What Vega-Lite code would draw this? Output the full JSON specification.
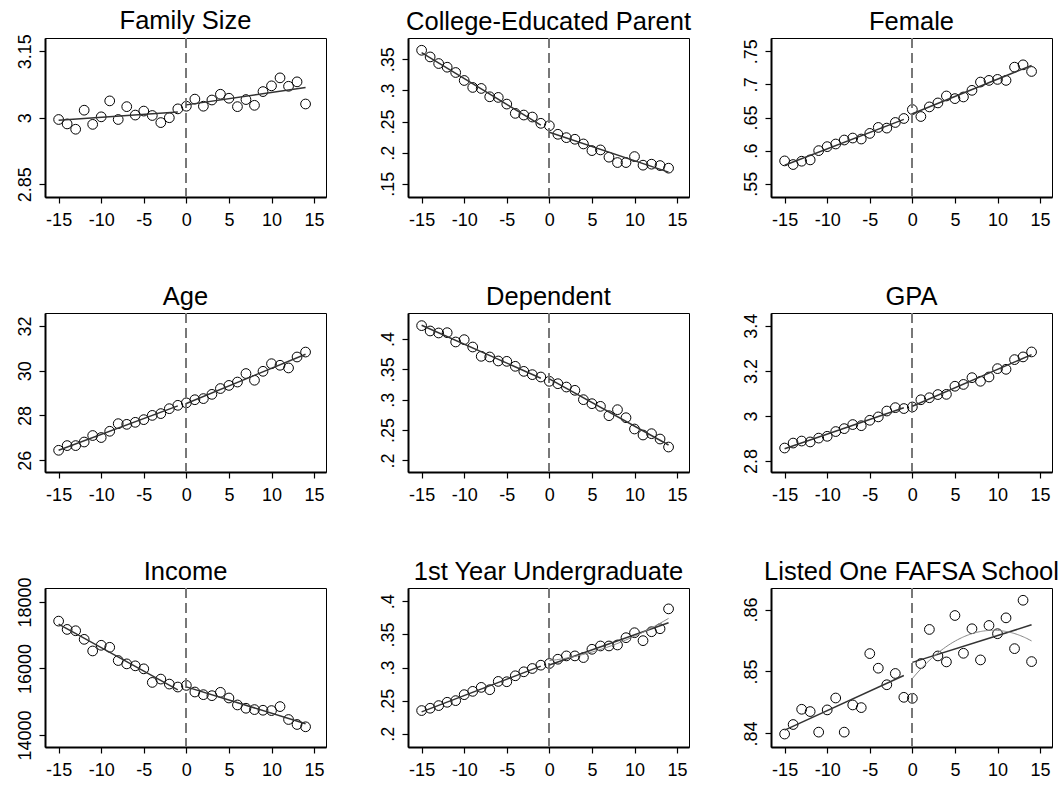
{
  "$schema": "https://vega.github.io/schema/vega-lite/v6.json",
  "background": "white",
  "padding": {"left": 15, "top": 8, "right": 5, "bottom": 5},
  "datasets": {
    "fam": [{"x":-15,"y":2.996},{"x":-14,"y":2.986},{"x":-13,"y":2.974},{"x":-12,"y":3.017},{"x":-11,"y":2.985},{"x":-10,"y":3.002},{"x":-9,"y":3.038},{"x":-8,"y":2.996},{"x":-7,"y":3.025},{"x":-6,"y":3.006},{"x":-5,"y":3.015},{"x":-4,"y":3.005},{"x":-3,"y":2.989},{"x":-2,"y":3.0},{"x":-1,"y":3.02},{"x":0,"y":3.026},{"x":1,"y":3.042},{"x":2,"y":3.026},{"x":3,"y":3.04},{"x":4,"y":3.053},{"x":5,"y":3.044},{"x":6,"y":3.025},{"x":7,"y":3.041},{"x":8,"y":3.028},{"x":9,"y":3.059},{"x":10,"y":3.072},{"x":11,"y":3.09},{"x":12,"y":3.071},{"x":13,"y":3.081},{"x":14,"y":3.031}],
    "col": [{"x":-15,"y":0.3644},{"x":-14,"y":0.3537},{"x":-13,"y":0.3431},{"x":-12,"y":0.3372},{"x":-11,"y":0.3287},{"x":-10,"y":0.3159},{"x":-9,"y":0.3047},{"x":-8,"y":0.3031},{"x":-7,"y":0.2897},{"x":-6,"y":0.2887},{"x":-5,"y":0.278},{"x":-4,"y":0.2631},{"x":-3,"y":0.2604},{"x":-2,"y":0.2572},{"x":-1,"y":0.2471},{"x":0,"y":0.2433},{"x":1,"y":0.2295},{"x":2,"y":0.2241},{"x":3,"y":0.2215},{"x":4,"y":0.214},{"x":5,"y":0.2033},{"x":6,"y":0.2044},{"x":7,"y":0.1927},{"x":8,"y":0.1841},{"x":9,"y":0.1841},{"x":10,"y":0.1937},{"x":11,"y":0.1799},{"x":12,"y":0.1815},{"x":13,"y":0.1793},{"x":14,"y":0.1751}],
    "fem": [{"x":-15,"y":0.5845},{"x":-14,"y":0.579},{"x":-13,"y":0.584},{"x":-12,"y":0.586},{"x":-11,"y":0.6},{"x":-10,"y":0.606},{"x":-9,"y":0.61},{"x":-8,"y":0.616},{"x":-7,"y":0.619},{"x":-6,"y":0.6175},{"x":-5,"y":0.626},{"x":-4,"y":0.635},{"x":-3,"y":0.634},{"x":-2,"y":0.6425},{"x":-1,"y":0.6485},{"x":0,"y":0.662},{"x":1,"y":0.6515},{"x":2,"y":0.666},{"x":3,"y":0.672},{"x":4,"y":0.6825},{"x":5,"y":0.6785},{"x":6,"y":0.681},{"x":7,"y":0.691},{"x":8,"y":0.7035},{"x":9,"y":0.706},{"x":10,"y":0.7075},{"x":11,"y":0.706},{"x":12,"y":0.726},{"x":13,"y":0.7295},{"x":14,"y":0.7195}],
    "age": [{"x":-15,"y":26.44},{"x":-14,"y":26.65},{"x":-13,"y":26.65},{"x":-12,"y":26.81},{"x":-11,"y":27.1},{"x":-10,"y":27.01},{"x":-9,"y":27.29},{"x":-8,"y":27.63},{"x":-7,"y":27.6},{"x":-6,"y":27.69},{"x":-5,"y":27.81},{"x":-4,"y":28.0},{"x":-3,"y":28.08},{"x":-2,"y":28.3},{"x":-1,"y":28.45},{"x":0,"y":28.56},{"x":1,"y":28.7},{"x":2,"y":28.75},{"x":3,"y":28.94},{"x":4,"y":29.2},{"x":5,"y":29.34},{"x":6,"y":29.49},{"x":7,"y":29.87},{"x":8,"y":29.57},{"x":9,"y":29.97},{"x":10,"y":30.31},{"x":11,"y":30.24},{"x":12,"y":30.12},{"x":13,"y":30.61},{"x":14,"y":30.83}],
    "dep": [{"x":-15,"y":0.422},{"x":-14,"y":0.4132},{"x":-13,"y":0.4099},{"x":-12,"y":0.4104},{"x":-11,"y":0.3951},{"x":-10,"y":0.3989},{"x":-9,"y":0.3868},{"x":-8,"y":0.3715},{"x":-7,"y":0.3704},{"x":-6,"y":0.3638},{"x":-5,"y":0.3632},{"x":-4,"y":0.355},{"x":-3,"y":0.3467},{"x":-2,"y":0.3413},{"x":-1,"y":0.3374},{"x":0,"y":0.3303},{"x":1,"y":0.3264},{"x":2,"y":0.3209},{"x":3,"y":0.3155},{"x":4,"y":0.3001},{"x":5,"y":0.2935},{"x":6,"y":0.2891},{"x":7,"y":0.2737},{"x":8,"y":0.2836},{"x":9,"y":0.2704},{"x":10,"y":0.2518},{"x":11,"y":0.2419},{"x":12,"y":0.2441},{"x":13,"y":0.2353},{"x":14,"y":0.2221}],
    "gpa": [{"x":-15,"y":2.858},{"x":-14,"y":2.88},{"x":-13,"y":2.889},{"x":-12,"y":2.885},{"x":-11,"y":2.902},{"x":-10,"y":2.91},{"x":-9,"y":2.931},{"x":-8,"y":2.944},{"x":-7,"y":2.962},{"x":-6,"y":2.957},{"x":-5,"y":2.981},{"x":-4,"y":2.996},{"x":-3,"y":3.022},{"x":-2,"y":3.037},{"x":-1,"y":3.033},{"x":0,"y":3.04},{"x":1,"y":3.072},{"x":2,"y":3.081},{"x":3,"y":3.095},{"x":4,"y":3.096},{"x":5,"y":3.132},{"x":6,"y":3.14},{"x":7,"y":3.17},{"x":8,"y":3.154},{"x":9,"y":3.173},{"x":10,"y":3.21},{"x":11,"y":3.207},{"x":12,"y":3.25},{"x":13,"y":3.262},{"x":14,"y":3.284}],
    "inc": [{"x":-15,"y":17423},{"x":-14,"y":17174},{"x":-13,"y":17134},{"x":-12,"y":16876},{"x":-11,"y":16527},{"x":-10,"y":16697},{"x":-9,"y":16637},{"x":-8,"y":16239},{"x":-7,"y":16139},{"x":-6,"y":16080},{"x":-5,"y":15990},{"x":-4,"y":15582},{"x":-3,"y":15682},{"x":-2,"y":15532},{"x":-1,"y":15443},{"x":0,"y":15493},{"x":1,"y":15294},{"x":2,"y":15214},{"x":3,"y":15184},{"x":4,"y":15284},{"x":5,"y":15114},{"x":6,"y":14905},{"x":7,"y":14806},{"x":8,"y":14766},{"x":9,"y":14746},{"x":10,"y":14736},{"x":11,"y":14856},{"x":12,"y":14468},{"x":13,"y":14318},{"x":14,"y":14249}],
    "fy": [{"x":-15,"y":0.235},{"x":-14,"y":0.2385},{"x":-13,"y":0.2425},{"x":-12,"y":0.2475},{"x":-11,"y":0.25},{"x":-10,"y":0.259},{"x":-9,"y":0.264},{"x":-8,"y":0.27},{"x":-7,"y":0.2665},{"x":-6,"y":0.279},{"x":-5,"y":0.2785},{"x":-4,"y":0.2875},{"x":-3,"y":0.2935},{"x":-2,"y":0.2985},{"x":-1,"y":0.3035},{"x":0,"y":0.306},{"x":1,"y":0.3125},{"x":2,"y":0.3175},{"x":3,"y":0.3175},{"x":4,"y":0.315},{"x":5,"y":0.3275},{"x":6,"y":0.3325},{"x":7,"y":0.3325},{"x":8,"y":0.334},{"x":9,"y":0.345},{"x":10,"y":0.3525},{"x":11,"y":0.3405},{"x":12,"y":0.354},{"x":13,"y":0.3585},{"x":14,"y":0.3885}],
    "faf": [{"x":-15,"y":0.8399},{"x":-14,"y":0.84144},{"x":-13,"y":0.8439},{"x":-12,"y":0.84353},{"x":-11,"y":0.84021},{"x":-10,"y":0.8438},{"x":-9,"y":0.84572},{"x":-8,"y":0.84021},{"x":-7,"y":0.8446},{"x":-6,"y":0.84417},{"x":-5,"y":0.85289},{"x":-4,"y":0.85053},{"x":-3,"y":0.84786},{"x":-2,"y":0.84968},{"x":-1,"y":0.84583},{"x":0,"y":0.84567},{"x":1,"y":0.85128},{"x":2,"y":0.85679},{"x":3,"y":0.85251},{"x":4,"y":0.85155},{"x":5,"y":0.85904},{"x":6,"y":0.85294},{"x":7,"y":0.8569},{"x":8,"y":0.85187},{"x":9,"y":0.85743},{"x":10,"y":0.8561},{"x":11,"y":0.85866},{"x":12,"y":0.85369},{"x":13,"y":0.8615},{"x":14,"y":0.8516}]
  },
  "columns": 3,
  "spacing": {"row": 116, "column": 82},
  "bounds": "flush",
  "concat": [
    {
      "title": {"text": "Family Size", "dy": 3}, "width": 281, "height": 159, "data": {"name": "fam"},
      "layer": [
        {"mark": {"type": "point", "shape": "circle", "filled": false, "size": 95, "color": "black", "strokeWidth": 1, "opacity": 1},
         "encoding": {"x": {"field": "x", "type": "quantitative", "scale": {"domain": [-16.6, 16.4], "nice": false, "zero": false}, "axis": {"values": [-15, -10, -5, 0, 5, 10, 15], "labelOverlap": false, "tickCount": 20}},
                      "y": {"field": "y", "type": "quantitative", "scale": {"domain": [2.821, 3.18], "nice": false, "zero": false}, "axis": {"values": [2.85, 3, 3.15], "labelOverlap": false, "tickCount": 20}}}},
        {"mark": {"type": "rule", "color": "#777777", "strokeDash": [10, 5], "strokeWidth": 1.2}, "encoding": {"x": {"datum": 0, "type": "quantitative"}}},
        {"transform": [{"filter": "datum.x < 0"}, {"regression": "y", "on": "x"}], "mark": {"type": "line", "color": "#333333", "strokeWidth": 1.5}, "encoding": {"x": {"field": "x", "type": "quantitative"}, "y": {"field": "y", "type": "quantitative"}}},
        {"transform": [{"filter": "datum.x >= 0"}, {"regression": "y", "on": "x"}], "mark": {"type": "line", "color": "#333333", "strokeWidth": 1.5}, "encoding": {"x": {"field": "x", "type": "quantitative"}, "y": {"field": "y", "type": "quantitative"}}}
      ]
    },
    {
      "title": "College-Educated Parent", "width": 281, "height": 159, "data": {"name": "col"},
      "layer": [
        {"mark": {"type": "point", "shape": "circle", "filled": false, "size": 95, "color": "black", "strokeWidth": 1, "opacity": 1},
         "encoding": {"x": {"field": "x", "type": "quantitative", "scale": {"domain": [-16.6, 16.4], "nice": false, "zero": false}, "axis": {"values": [-15, -10, -5, 0, 5, 10, 15], "labelOverlap": false, "tickCount": 20}},
                      "y": {"field": "y", "type": "quantitative", "scale": {"domain": [0.1288, 0.3841], "nice": false, "zero": false}, "axis": {"values": [0.15, 0.2, 0.25, 0.3, 0.35], "labelOverlap": false, "tickCount": 20}}}},
        {"mark": {"type": "rule", "color": "#777777", "strokeDash": [10, 5], "strokeWidth": 1.2}, "encoding": {"x": {"datum": 0, "type": "quantitative"}}},
        {"transform": [{"filter": "datum.x < 0"}, {"regression": "y", "on": "x"}], "mark": {"type": "line", "color": "#333333", "strokeWidth": 1.5}, "encoding": {"x": {"field": "x", "type": "quantitative"}, "y": {"field": "y", "type": "quantitative"}}},
        {"transform": [{"filter": "datum.x >= 0"}, {"regression": "y", "on": "x"}], "mark": {"type": "line", "color": "#333333", "strokeWidth": 1.5}, "encoding": {"x": {"field": "x", "type": "quantitative"}, "y": {"field": "y", "type": "quantitative"}}}
      ]
    },
    {
      "title": "Female", "width": 281, "height": 159, "data": {"name": "fem"},
      "layer": [
        {"mark": {"type": "point", "shape": "circle", "filled": false, "size": 95, "color": "black", "strokeWidth": 1, "opacity": 1},
         "encoding": {"x": {"field": "x", "type": "quantitative", "scale": {"domain": [-16.6, 16.4], "nice": false, "zero": false}, "axis": {"values": [-15, -10, -5, 0, 5, 10, 15], "labelOverlap": false, "tickCount": 20}},
                      "y": {"field": "y", "type": "quantitative", "scale": {"domain": [0.53, 0.77], "nice": false, "zero": false}, "axis": {"values": [0.55, 0.6, 0.65, 0.7, 0.75], "labelOverlap": false, "tickCount": 20}}}},
        {"mark": {"type": "rule", "color": "#777777", "strokeDash": [10, 5], "strokeWidth": 1.2}, "encoding": {"x": {"datum": 0, "type": "quantitative"}}},
        {"transform": [{"filter": "datum.x < 0"}, {"regression": "y", "on": "x"}], "mark": {"type": "line", "color": "#333333", "strokeWidth": 1.5}, "encoding": {"x": {"field": "x", "type": "quantitative"}, "y": {"field": "y", "type": "quantitative"}}},
        {"transform": [{"filter": "datum.x >= 0"}, {"regression": "y", "on": "x"}], "mark": {"type": "line", "color": "#333333", "strokeWidth": 1.5}, "encoding": {"x": {"field": "x", "type": "quantitative"}, "y": {"field": "y", "type": "quantitative"}}}
      ]
    },
    {
      "title": "Age", "width": 281, "height": 159, "data": {"name": "age"},
      "layer": [
        {"mark": {"type": "point", "shape": "circle", "filled": false, "size": 95, "color": "black", "strokeWidth": 1, "opacity": 1},
         "encoding": {"x": {"field": "x", "type": "quantitative", "scale": {"domain": [-16.6, 16.4], "nice": false, "zero": false}, "axis": {"values": [-15, -10, -5, 0, 5, 10, 15], "labelOverlap": false, "tickCount": 20}},
                      "y": {"field": "y", "type": "quantitative", "scale": {"domain": [25.47, 32.576], "nice": false, "zero": false}, "axis": {"values": [26, 28, 30, 32], "labelOverlap": false, "tickCount": 20}}}},
        {"mark": {"type": "rule", "color": "#777777", "strokeDash": [10, 5], "strokeWidth": 1.2}, "encoding": {"x": {"datum": 0, "type": "quantitative"}}},
        {"transform": [{"filter": "datum.x < 0"}, {"regression": "y", "on": "x"}], "mark": {"type": "line", "color": "#333333", "strokeWidth": 1.5}, "encoding": {"x": {"field": "x", "type": "quantitative"}, "y": {"field": "y", "type": "quantitative"}}},
        {"transform": [{"filter": "datum.x >= 0"}, {"regression": "y", "on": "x"}], "mark": {"type": "line", "color": "#333333", "strokeWidth": 1.5}, "encoding": {"x": {"field": "x", "type": "quantitative"}, "y": {"field": "y", "type": "quantitative"}}}
      ]
    },
    {
      "title": "Dependent", "width": 281, "height": 159, "data": {"name": "dep"},
      "layer": [
        {"mark": {"type": "point", "shape": "circle", "filled": false, "size": 95, "color": "black", "strokeWidth": 1, "opacity": 1},
         "encoding": {"x": {"field": "x", "type": "quantitative", "scale": {"domain": [-16.6, 16.4], "nice": false, "zero": false}, "axis": {"values": [-15, -10, -5, 0, 5, 10, 15], "labelOverlap": false, "tickCount": 20}},
                      "y": {"field": "y", "type": "quantitative", "scale": {"domain": [0.181, 0.4428], "nice": false, "zero": false}, "axis": {"values": [0.2, 0.25, 0.3, 0.35, 0.4], "labelOverlap": false, "tickCount": 20}}}},
        {"mark": {"type": "rule", "color": "#777777", "strokeDash": [10, 5], "strokeWidth": 1.2}, "encoding": {"x": {"datum": 0, "type": "quantitative"}}},
        {"transform": [{"filter": "datum.x < 0"}, {"regression": "y", "on": "x"}], "mark": {"type": "line", "color": "#333333", "strokeWidth": 1.5}, "encoding": {"x": {"field": "x", "type": "quantitative"}, "y": {"field": "y", "type": "quantitative"}}},
        {"transform": [{"filter": "datum.x >= 0"}, {"regression": "y", "on": "x"}], "mark": {"type": "line", "color": "#333333", "strokeWidth": 1.5}, "encoding": {"x": {"field": "x", "type": "quantitative"}, "y": {"field": "y", "type": "quantitative"}}}
      ]
    },
    {
      "title": "GPA", "width": 281, "height": 159, "data": {"name": "gpa"},
      "layer": [
        {"mark": {"type": "point", "shape": "circle", "filled": false, "size": 95, "color": "black", "strokeWidth": 1, "opacity": 1},
         "encoding": {"x": {"field": "x", "type": "quantitative", "scale": {"domain": [-16.6, 16.4], "nice": false, "zero": false}, "axis": {"values": [-15, -10, -5, 0, 5, 10, 15], "labelOverlap": false, "tickCount": 20}},
                      "y": {"field": "y", "type": "quantitative", "scale": {"domain": [2.7517, 3.4567], "nice": false, "zero": false}, "axis": {"values": [2.8, 3, 3.2, 3.4], "labelOverlap": false, "tickCount": 20}}}},
        {"mark": {"type": "rule", "color": "#777777", "strokeDash": [10, 5], "strokeWidth": 1.2}, "encoding": {"x": {"datum": 0, "type": "quantitative"}}},
        {"transform": [{"filter": "datum.x < 0"}, {"regression": "y", "on": "x"}], "mark": {"type": "line", "color": "#333333", "strokeWidth": 1.5}, "encoding": {"x": {"field": "x", "type": "quantitative"}, "y": {"field": "y", "type": "quantitative"}}},
        {"transform": [{"filter": "datum.x >= 0"}, {"regression": "y", "on": "x"}], "mark": {"type": "line", "color": "#333333", "strokeWidth": 1.5}, "encoding": {"x": {"field": "x", "type": "quantitative"}, "y": {"field": "y", "type": "quantitative"}}}
      ]
    },
    {
      "title": {"text": "Income", "dy": 11}, "width": 281, "height": 159, "data": {"name": "inc"},
      "layer": [
        {"mark": {"type": "point", "shape": "circle", "filled": false, "size": 95, "color": "black", "strokeWidth": 1, "opacity": 1},
         "encoding": {"x": {"field": "x", "type": "quantitative", "scale": {"domain": [-16.6, 16.4], "nice": false, "zero": false}, "axis": {"values": [-15, -10, -5, 0, 5, 10, 15], "labelOverlap": false, "tickCount": 20}},
                      "y": {"field": "y", "type": "quantitative", "scale": {"domain": [13642, 18418], "nice": false, "zero": false}, "axis": {"values": [14000, 16000, 18000], "labelOverlap": false, "tickCount": 20}}}},
        {"mark": {"type": "rule", "color": "#777777", "strokeDash": [10, 5], "strokeWidth": 1.2}, "encoding": {"x": {"datum": 0, "type": "quantitative"}}},
        {"transform": [{"filter": "datum.x < 0"}, {"regression": "y", "on": "x"}], "mark": {"type": "line", "color": "#333333", "strokeWidth": 1.5}, "encoding": {"x": {"field": "x", "type": "quantitative"}, "y": {"field": "y", "type": "quantitative"}}},
        {"transform": [{"filter": "datum.x >= 0"}, {"regression": "y", "on": "x"}], "mark": {"type": "line", "color": "#333333", "strokeWidth": 1.5}, "encoding": {"x": {"field": "x", "type": "quantitative"}, "y": {"field": "y", "type": "quantitative"}}}
      ]
    },
    {
      "title": "1st Year Undergraduate", "width": 281, "height": 159, "data": {"name": "fy"},
      "layer": [
        {"mark": {"type": "point", "shape": "circle", "filled": false, "size": 95, "color": "black", "strokeWidth": 1, "opacity": 1},
         "encoding": {"x": {"field": "x", "type": "quantitative", "scale": {"domain": [-16.6, 16.4], "nice": false, "zero": false}, "axis": {"values": [-15, -10, -5, 0, 5, 10, 15], "labelOverlap": false, "tickCount": 20}},
                      "y": {"field": "y", "type": "quantitative", "scale": {"domain": [0.18, 0.42], "nice": false, "zero": false}, "axis": {"values": [0.2, 0.25, 0.3, 0.35, 0.4], "labelOverlap": false, "tickCount": 20}}}},
        {"mark": {"type": "rule", "color": "#777777", "strokeDash": [10, 5], "strokeWidth": 1.2}, "encoding": {"x": {"datum": 0, "type": "quantitative"}}},
        {"transform": [{"filter": "datum.x < 0"}, {"regression": "y", "on": "x"}], "mark": {"type": "line", "color": "#333333", "strokeWidth": 1.5}, "encoding": {"x": {"field": "x", "type": "quantitative"}, "y": {"field": "y", "type": "quantitative"}}},
        {"transform": [{"filter": "datum.x >= 0"}, {"regression": "y", "on": "x"}], "mark": {"type": "line", "color": "#333333", "strokeWidth": 1.5}, "encoding": {"x": {"field": "x", "type": "quantitative"}, "y": {"field": "y", "type": "quantitative"}}},
        {"transform": [{"filter": "datum.x >= 0"}, {"regression": "y", "on": "x", "method": "poly", "order": 2}], "mark": {"type": "line", "color": "#888888", "strokeWidth": 1}, "encoding": {"x": {"field": "x", "type": "quantitative"}, "y": {"field": "y", "type": "quantitative"}}}
      ]
    },
    {
      "title": "Listed One FAFSA School", "width": 281, "height": 159, "data": {"name": "faf"},
      "layer": [
        {"mark": {"type": "point", "shape": "circle", "filled": false, "size": 95, "color": "black", "strokeWidth": 1, "opacity": 1},
         "encoding": {"x": {"field": "x", "type": "quantitative", "scale": {"domain": [-16.6, 16.4], "nice": false, "zero": false}, "axis": {"values": [-15, -10, -5, 0, 5, 10, 15], "labelOverlap": false, "tickCount": 20}},
                      "y": {"field": "y", "type": "quantitative", "scale": {"domain": [0.83781, 0.86348], "nice": false, "zero": false}, "axis": {"values": [0.84, 0.85, 0.86], "labelOverlap": false, "tickCount": 20}}}},
        {"mark": {"type": "rule", "color": "#777777", "strokeDash": [10, 5], "strokeWidth": 1.2}, "encoding": {"x": {"datum": 0, "type": "quantitative"}}},
        {"transform": [{"filter": "datum.x < 0"}, {"regression": "y", "on": "x"}], "mark": {"type": "line", "color": "#333333", "strokeWidth": 1.5}, "encoding": {"x": {"field": "x", "type": "quantitative"}, "y": {"field": "y", "type": "quantitative"}}},
        {"transform": [{"filter": "datum.x >= 0"}, {"regression": "y", "on": "x"}], "mark": {"type": "line", "color": "#333333", "strokeWidth": 1.5}, "encoding": {"x": {"field": "x", "type": "quantitative"}, "y": {"field": "y", "type": "quantitative"}}},
        {"transform": [{"filter": "datum.x >= 0"}, {"regression": "y", "on": "x", "method": "poly", "order": 2}], "mark": {"type": "line", "color": "#888888", "strokeWidth": 1}, "encoding": {"x": {"field": "x", "type": "quantitative"}, "y": {"field": "y", "type": "quantitative"}}}
      ]
    }
  ],
  "config": {
    "font": "Liberation Sans",
    "view": {"stroke": "black", "strokeWidth": 1},
    "title": {"fontSize": 25.5, "fontWeight": "normal", "color": "black", "anchor": "middle", "frame": "group", "baseline": "alphabetic", "offset": 2},
    "axis": {"grid": false, "title": null, "domainColor": "black", "domainWidth": 2, "tickColor": "black", "tickSize": 6, "tickWidth": 1.2, "labelFont": "Liberation Sans", "labelFontSize": 18, "labelColor": "black", "labelOverlap": false, "labelFlush": false},
    "axisX": {"labelExpr": "'' + datum.value", "labelPadding": 8},
    "axisY": {"labelAngle": 270, "labelAlign": "center", "labelBaseline": "bottom", "labelPadding": 5, "labelExpr": "replace('' + datum.value, '0.', '.')"}
  }
}
